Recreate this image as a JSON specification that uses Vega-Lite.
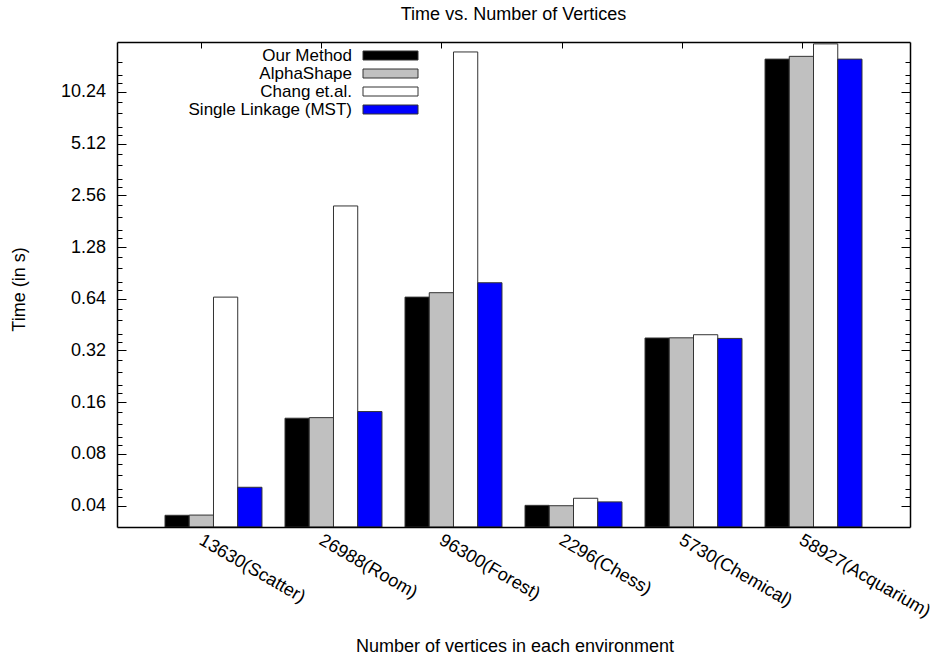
{
  "$schema": "https://vega.github.io/schema/vega-lite/v6.json",
  "width": 793,
  "height": 485,
  "autosize": "none",
  "padding": {"left": 117, "top": 42, "right": 26, "bottom": 128},
  "background": "white",
  "title": {"text": "Time vs. Number of Vertices", "anchor": "middle", "frame": "group", "baseline": "top", "offset": 18, "fontSize": 18, "fontWeight": "normal", "font": "Liberation Sans", "color": "#000000"},
  "data": {
    "values": [
      {"env": "13630(Scatter)", "method": "Our Method", "time": 0.0351},
      {"env": "13630(Scatter)", "method": "AlphaShape", "time": 0.0352},
      {"env": "13630(Scatter)", "method": "Chang et.al.", "time": 0.654},
      {"env": "13630(Scatter)", "method": "Single Linkage (MST)", "time": 0.0511},
      {"env": "26988(Room)", "method": "Our Method", "time": 0.129},
      {"env": "26988(Room)", "method": "AlphaShape", "time": 0.13},
      {"env": "26988(Room)", "method": "Chang et.al.", "time": 2.22},
      {"env": "26988(Room)", "method": "Single Linkage (MST)", "time": 0.141},
      {"env": "96300(Forest)", "method": "Our Method", "time": 0.654},
      {"env": "96300(Forest)", "method": "AlphaShape", "time": 0.694},
      {"env": "96300(Forest)", "method": "Chang et.al.", "time": 17.5},
      {"env": "96300(Forest)", "method": "Single Linkage (MST)", "time": 0.793},
      {"env": "2296(Chess)", "method": "Our Method", "time": 0.0401},
      {"env": "2296(Chess)", "method": "AlphaShape", "time": 0.0399},
      {"env": "2296(Chess)", "method": "Chang et.al.", "time": 0.0441},
      {"env": "2296(Chess)", "method": "Single Linkage (MST)", "time": 0.042},
      {"env": "5730(Chemical)", "method": "Our Method", "time": 0.378},
      {"env": "5730(Chemical)", "method": "AlphaShape", "time": 0.379},
      {"env": "5730(Chemical)", "method": "Chang et.al.", "time": 0.395},
      {"env": "5730(Chemical)", "method": "Single Linkage (MST)", "time": 0.376},
      {"env": "58927(Acquarium)", "method": "Our Method", "time": 15.9},
      {"env": "58927(Acquarium)", "method": "AlphaShape", "time": 16.5},
      {"env": "58927(Acquarium)", "method": "Chang et.al.", "time": 19.5},
      {"env": "58927(Acquarium)", "method": "Single Linkage (MST)", "time": 15.9}
    ]
  },
  "layer": [
    {
      "mark": {"type": "bar", "stroke": "#333333", "strokeWidth": 1},
      "encoding": {
        "x": {
          "field": "env", "type": "nominal",
          "sort": ["13630(Scatter)", "26988(Room)", "96300(Forest)", "2296(Chess)", "5730(Chemical)", "58927(Acquarium)"],
          "scale": {"paddingInner": 0.192, "paddingOuter": 0.4},
          "axis": {
            "orient": "bottom", "ticks": false, "labelAngle": 30, "labelAlign": "left", "labelBaseline": "top",
            "labelPadding": 4, "tickOffset": -12, "labelOffset": 3, "zindex": 1,
            "title": "Number of vertices in each environment", "titleX": 397.5, "titleY": 124.7,
            "titleBaseline": "alphabetic", "titleAlign": "center"
          }
        },
        "xOffset": {
          "field": "method", "type": "nominal",
          "sort": ["Our Method", "AlphaShape", "Chang et.al.", "Single Linkage (MST)"],
          "scale": {"paddingInner": 0, "paddingOuter": 0}
        },
        "y": {
          "field": "time", "type": "quantitative", "stack": null,
          "scale": {"type": "log", "base": 2, "domain": [0.03, 20], "nice": false},
          "axis": {
            "orient": "left",
            "values": [0.04, 0.045, 0.05, 0.06, 0.07, 0.08, 0.09, 0.1, 0.12, 0.14, 0.16, 0.18, 0.2, 0.24, 0.28, 0.32, 0.36, 0.4, 0.48, 0.56, 0.64, 0.72, 0.8, 0.96, 1.12, 1.28, 1.44, 1.6, 1.92, 2.24, 2.56, 2.88, 3.2, 3.84, 4.48, 5.12, 5.76, 6.4, 7.68, 8.96, 10.24, 11.52, 12.8, 15.36],
            "format": ".2f",
            "labelExpr": "abs(log(datum.value/0.04)/log(2) - round(log(datum.value/0.04)/log(2))) < 0.01 ? datum.label : ''",
            "tickSize": {"condition": {"test": "abs(log(datum.value/0.04)/log(2) - round(log(datum.value/0.04)/log(2))) < 0.01", "value": -9}, "value": -5},
            "labelPadding": 20.5, "zindex": 1,
            "title": "Time (in s)", "titleX": -98, "titleY": 247, "titleAngle": -90,
            "titleBaseline": "middle", "titleAlign": "center"
          }
        },
        "y2": {"datum": 0.03},
        "color": {
          "field": "method", "type": "nominal",
          "sort": ["Our Method", "AlphaShape", "Chang et.al.", "Single Linkage (MST)"],
          "scale": {"domain": ["Our Method", "AlphaShape", "Chang et.al.", "Single Linkage (MST)"], "range": ["#000000", "#c0c0c0", "#ffffff", "#0000ff"]},
          "legend": {
            "orient": "none", "legendX": 265, "legendY": 5, "title": null, "direction": "vertical",
            "symbolType": "M-5.5,-0.9L5.5,-0.9L5.5,0.9L-5.5,0.9Z", "symbolSize": 100,
            "symbolStrokeColor": "#333333", "symbolStrokeWidth": 1, "symbolOpacity": 1,
            "labelAlign": "right", "labelOffset": -47, "labelFontSize": 17, "labelLimit": 300,
            "labelBaseline": "middle", "labelColor": "#000000", "labelFont": "Liberation Sans",
            "rowPadding": 0, "padding": 0
          }
        }
      }
    },
    {
      "mark": {"type": "bar", "fillOpacity": 0, "strokeOpacity": 0},
      "encoding": {
        "x": {
          "field": "env", "type": "nominal",
          "sort": ["13630(Scatter)", "26988(Room)", "96300(Forest)", "2296(Chess)", "5730(Chemical)", "58927(Acquarium)"],
          "axis": {"orient": "top", "labels": false, "ticks": true, "tickSize": -6, "tickOffset": -12, "title": null, "zindex": 1}
        },
        "y": {
          "field": "time", "type": "quantitative", "stack": null,
          "axis": {
            "orient": "right", "labels": false, "title": null, "zindex": 1,
            "values": [0.04, 0.045, 0.05, 0.06, 0.07, 0.08, 0.09, 0.1, 0.12, 0.14, 0.16, 0.18, 0.2, 0.24, 0.28, 0.32, 0.36, 0.4, 0.48, 0.56, 0.64, 0.72, 0.8, 0.96, 1.12, 1.28, 1.44, 1.6, 1.92, 2.24, 2.56, 2.88, 3.2, 3.84, 4.48, 5.12, 5.76, 6.4, 7.68, 8.96, 10.24, 11.52, 12.8, 15.36],
            "tickSize": {"condition": {"test": "abs(log(datum.value/0.04)/log(2) - round(log(datum.value/0.04)/log(2))) < 0.01", "value": -9}, "value": -5}
          }
        },
        "y2": {"datum": 0.03}
      }
    }
  ],
  "resolve": {"axis": {"x": "independent", "y": "independent"}},
  "config": {
    "view": {"stroke": null},
    "font": "Liberation Sans",
    "axis": {
      "domainColor": "#000000", "domainWidth": 1.5, "tickColor": "#000000", "tickWidth": 1,
      "labelColor": "#000000", "titleColor": "#000000", "labelFontSize": 18, "titleFontSize": 18,
      "titleFontWeight": "normal", "labelFont": "Liberation Sans", "titleFont": "Liberation Sans", "grid": false
    }
  }
}
